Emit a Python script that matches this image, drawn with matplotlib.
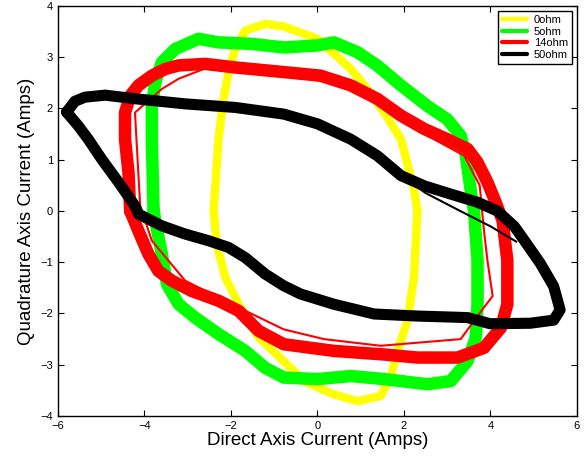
import matplotlib
matplotlib.use("Agg")
import matplotlib.pyplot as plt
import numpy as np

plt.rcParams['font.family'] = ['Liberation Sans', 'DejaVu Sans']

# loop outlines (Direct axis, Quadrature axis)
yellow_x = [-2.40, -2.29, -2.17, -2.06, -1.90, -1.67, -1.21, -0.78, 0.00, 0.77, 1.15, 1.54, 1.93,
            2.23, 2.31, 2.23, 2.08, 1.85, 1.69, 1.46, 0.92, 0.38, -0.31, -0.78, -1.36, -1.82,
            -2.13, -2.33, -2.40]
yellow_y = [0.00, 1.40, 2.19, 2.71, 3.16, 3.52, 3.65, 3.60, 3.36, 2.77, 2.38, 1.92, 1.40,
            0.43, 0.00, -1.30, -2.14, -2.73, -3.25, -3.61, -3.71, -3.58, -3.32, -2.93, -2.47, -1.82,
            -1.30, -0.65, 0.00]

green_x = [-3.79, -3.83, -3.83, -3.75, -3.60, -3.29, -2.75, -2.29, -1.52, -0.78, 0.00, 0.38, 0.92,
           1.38, 1.93, 2.54, 3.00, 3.31, 3.43, 3.55, 3.62, 3.70, 3.70, 3.66, 3.47, 3.08, 2.54,
           1.54, 0.77, 0.00, -0.78, -1.21, -1.67, -2.29, -2.83, -3.21, -3.48, -3.60, -3.72, -3.79]
green_y = [0.00, 1.40, 2.05, 2.51, 2.90, 3.16, 3.36, 3.29, 3.26, 3.19, 3.23, 3.29, 3.10,
           2.84, 2.45, 2.05, 1.79, 1.47, 1.08, 0.36, 0.00, -0.97, -1.82, -2.47, -2.93, -3.32, -3.38,
           -3.28, -3.22, -3.28, -3.25, -3.06, -2.73, -2.40, -2.08, -1.82, -1.43, -0.84, -0.32, 0.00]

red_x = [-4.33, -4.37, -4.45, -4.45, -4.33, -4.14, -3.83, -3.52, -3.21, -2.60, -1.90, -0.78, 0.07,
         0.77, 1.38, 1.93, 2.47, 3.00, 3.47, 3.70, 3.93, 4.12, 4.28, 4.39, 4.39, 4.24, 3.85, 3.24,
         2.31, 1.54, 0.38, -0.78, -1.36, -1.82, -2.29, -2.91, -3.37, -3.68, -3.91, -4.14, -4.33]
red_y = [0.00, 0.75, 1.40, 1.92, 2.25, 2.45, 2.64, 2.77, 2.84, 2.87, 2.80, 2.71, 2.64,
         2.45, 2.19, 1.86, 1.60, 1.40, 1.21, 0.95, 0.56, 0.17, -0.19, -0.97, -1.82, -2.28, -2.67, -2.86,
         -2.86, -2.80, -2.73, -2.60, -2.34, -1.95, -1.75, -1.56, -1.36, -1.17, -0.84, -0.39, 0.00]

# one stray 14 ohm cycle that runs inside the main band
red_thin_x = [-4.10, -4.22, -3.60, -3.21, -2.60, -1.90, -0.78, 0.77, 1.93, 2.54, 3.39, 3.75, 3.85,
              3.93, 4.05, 3.85, 3.31, 1.46, 0.15, -0.78, -1.98, -3.06, -3.83, -4.10]
red_thin_y = [0.10, 1.92, 2.38, 2.58, 2.78, 2.76, 2.68, 2.42, 1.84, 1.47, 1.08, 0.50, -0.39,
              -0.97, -1.66, -1.88, -2.50, -2.63, -2.50, -2.31, -1.82, -1.36, -0.58, 0.10]

black_x = [-5.80, -5.61, -5.38, -4.91, -4.22, -3.06, -1.90, -0.78, 0.00, 0.77, 1.38, 1.93, 2.47,
           3.08, 3.70, 4.16, 4.55, 4.77, 5.15, 5.46, 5.61, 5.46, 4.92, 3.99, 3.47, 2.31, 1.31,
           0.38, -0.39, -0.78, -1.21, -1.67, -2.06, -2.52, -3.06, -3.60, -4.14, -4.22, -4.60,
           -4.99, -5.30, -5.53, -5.80]
black_y = [1.93, 2.14, 2.22, 2.26, 2.19, 2.09, 2.02, 1.89, 1.70, 1.40, 1.08, 0.69, 0.49,
           0.33, 0.17, 0.00, -0.30, -0.56, -1.02, -1.47, -1.93, -2.13, -2.19, -2.20, -2.08, -2.05, -2.01,
           -1.82, -1.62, -1.46, -1.23, -0.91, -0.71, -0.58, -0.45, -0.29, -0.06, 0.10, 0.56,
           1.01, 1.40, 1.66, 1.93]

black_thin_x = [1.93, 2.50, 3.30, 4.00, 4.60]
black_thin_y = [0.69, 0.35, 0.00, -0.30, -0.60]

labels = ['0ohm', '5ohm', '14ohm', '50ohm']

fig = plt.figure(figsize=(5.84, 4.59), dpi=100)
ax = fig.add_axes([0.0993, 0.0937, 0.8887, 0.8933])

kw = dict(solid_joinstyle='round', solid_capstyle='round')
ax.plot(yellow_x, yellow_y, color='#ffff00', lw=6.0, label=labels[0], **kw)
ax.plot(green_x, green_y, color='#00ff00', lw=9.0, label=labels[1], **kw)
ax.plot(red_x, red_y, color='#ff0000', lw=9.0, label=labels[2], **kw)
ax.plot(red_thin_x, red_thin_y, color='#ff0000', lw=1.5, **kw)
ax.plot(black_x, black_y, color='black', lw=8.0, label=labels[3], **kw)
ax.plot(black_thin_x, black_thin_y, color='black', lw=1.5, **kw)

ax.set_xlim(-6, 6)
ax.set_ylim(-4, 4)
ax.set_xticks(np.arange(-6, 7, 2))
ax.set_yticks(np.arange(-4, 5, 1))
ax.tick_params(direction='in', top=True, right=True, labelsize=8, length=4, width=0.8)
for s in ax.spines.values():
    s.set_linewidth(1.0)

ax.set_xlabel('Direct Axis Current (Amps)', fontsize=13.5, labelpad=1)
ax.set_ylabel('Quadrature Axis Current (Amps)', fontsize=13.5, labelpad=4)

leg = ax.legend(loc='upper right', fontsize=8, handlelength=2.3, handletextpad=0.6,
                fancybox=False, framealpha=1, edgecolor='black', borderaxespad=0.45,
                labelspacing=0.15, borderpad=0.35)
leg.get_frame().set_linewidth(1.0)
for h in leg.get_lines():
    h.set_linewidth(3)

fig.savefig('out.png', dpi=100)
